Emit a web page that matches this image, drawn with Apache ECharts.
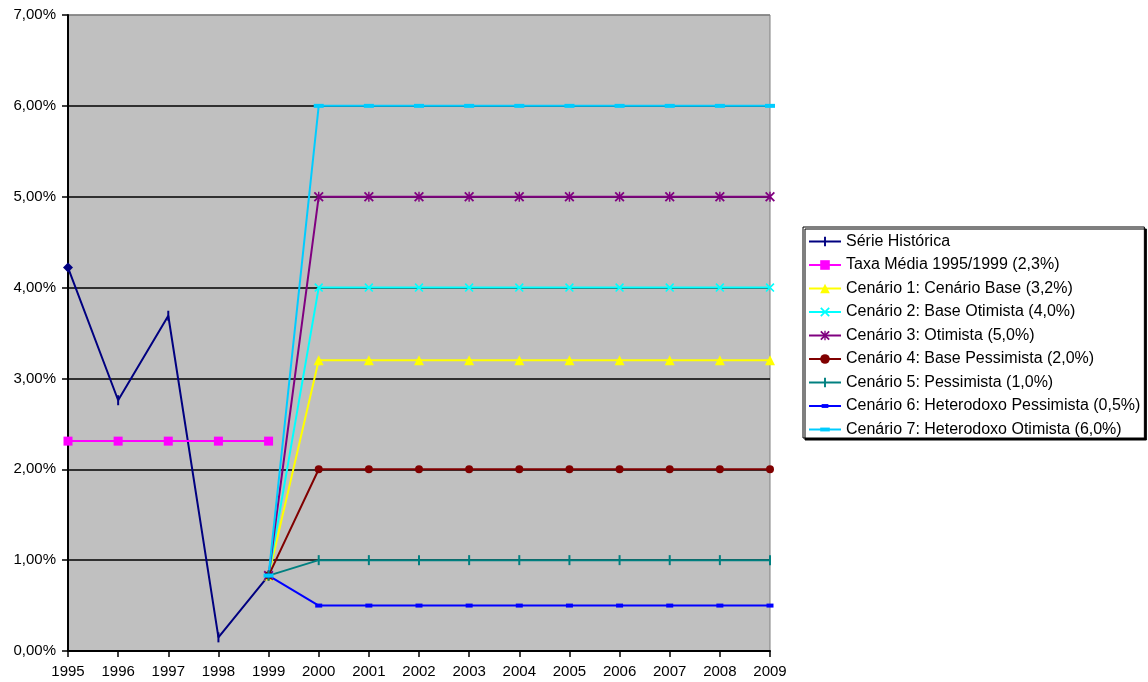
<!DOCTYPE html>
<html>
<head>
<meta charset="utf-8">
<script src="https://cdn.jsdelivr.net/npm/echarts@6/dist/echarts.min.js"></script>
<style>
html,body{margin:0;padding:0;background:#fff;}
#chart{width:1148px;height:682px;}
</style>
</head>
<body>
<div id="chart"></div>
<script>
// Anos do eixo horizontal
const years = ['1995','1996','1997','1998','1999','2000','2001','2002','2003','2004','2005','2006','2007','2008','2009'];

// Taxas em %
const historico = [4.22, 2.76, 3.69, 0.15, 0.83];
const taxaMedia = 2.31;
const cenarios = [
  { name: 'Cenário 1: Cenário Base (3,2%)', rate: 3.2 },
  { name: 'Cenário 2: Base Otimista (4,0%)', rate: 4.0 },
  { name: 'Cenário 3: Otimista (5,0%)', rate: 5.0 },
  { name: 'Cenário 4: Base Pessimista (2,0%)', rate: 2.0 },
  { name: 'Cenário 5: Pessimista (1,0%)', rate: 1.0 },
  { name: 'Cenário 6: Heterodoxo Pessimista (0,5%)', rate: 0.5 },
  { name: 'Cenário 7: Heterodoxo Otimista (6,0%)', rate: 6.0 }
];
const yTicks = [0, 1, 2, 3, 4, 5, 6, 7];

const nHist = historico.length;

// Marcadores desenhados numa caixa 10x10 (os pontos M fixam a caixa)
const box = 'path://M0,0 M10,10 ';
const barPath = box + 'M4,0 L6,0 L6,10 L4,10 Z';
const xPath = box + 'M0,1.3 L1.3,0 L10,8.7 L8.7,10 Z M8.7,0 L10,1.3 L1.3,10 L0,8.7 Z';
const starPath = box + 'M0,1.3 L1.3,0 L10,8.7 L8.7,10 Z M8.7,0 L10,1.3 L1.3,10 L0,8.7 Z M4.3,0 L5.7,0 L5.7,10 L4.3,10 Z';
const smallRectPath = box + 'M1.5,3 L8.5,3 L8.5,7 L1.5,7 Z';
const wideRectPath = box + 'M0,3 L10,3 L10,7 L0,7 Z';

// Série histórica com nulos após 1999
const histData = years.map((y, i) => {
  if (i >= nHist) return null;
  if (i === 0) return { value: historico[i], symbol: 'diamond', symbolSize: 10 };
  return historico[i];
});
const mediaData = years.map((y, i) => (i < nHist ? taxaMedia : null));

// Cada cenário parte do último ponto histórico e segue constante
function cenarioData(rate) {
  return years.map((y, i) => {
    if (i < nHist - 1) return null;
    if (i === nHist - 1) return historico[nHist - 1];
    return rate;
  });
}

const styles = [
  { color: '#FFFF00', symbol: 'triangle', symbolSize: 10 },
  { color: '#00FFFF', symbol: xPath, symbolSize: 9 },
  { color: '#800080', symbol: starPath, symbolSize: 10 },
  { color: '#800000', symbol: 'circle', symbolSize: 8 },
  { color: '#008080', symbol: barPath, symbolSize: 10 },
  { color: '#0000FF', symbol: smallRectPath, symbolSize: 10 },
  { color: '#00CCFF', symbol: wideRectPath, symbolSize: 10 }
];

const series = [
  {
    name: 'Série Histórica', type: 'line', data: histData,
    color: '#000080', symbol: barPath, symbolSize: 10,
    lineStyle: { width: 2 }
  },
  {
    name: 'Taxa Média 1995/1999 (2,3%)', type: 'line', data: mediaData,
    color: '#FF00FF', symbol: 'rect', symbolSize: 9, lineStyle: { width: 2 }
  }
];
cenarios.forEach((c, k) => {
  series.push({
    name: c.name, type: 'line', data: cenarioData(c.rate),
    color: styles[k].color, symbol: styles[k].symbol, symbolSize: styles[k].symbolSize,
    lineStyle: { width: 2 }
  });
});
series.forEach(s => { s.showAllSymbol = true; s.connectNulls = false; s.animation = false; });

const chart = echarts.init(document.getElementById('chart'));
chart.setOption({
  animation: false,
  backgroundColor: '#fff',
  textStyle: { fontFamily: 'Liberation Sans, Arial, sans-serif' },
  grid: {
    left: 68, top: 15, right: 378, bottom: 31,
    show: true, backgroundColor: '#C0C0C0', borderColor: '#808080', borderWidth: 1
  },
  xAxis: {
    type: 'category', data: years, boundaryGap: false,
    axisLine: { lineStyle: { color: '#000', width: 2 } },
    axisTick: { show: true, alignWithLabel: true, length: 6, lineStyle: { color: '#000', width: 1.5 } },
    axisLabel: { color: '#000', fontSize: 15, margin: 13, interval: 0 },
    splitLine: { show: false }
  },
  yAxis: {
    type: 'value', min: yTicks[0], max: yTicks[yTicks.length - 1], interval: 1,
    axisLine: { show: true, lineStyle: { color: '#000', width: 2 } },
    axisTick: { show: true, length: 6, lineStyle: { color: '#000', width: 1.5 } },
    axisLabel: {
      color: '#000', fontSize: 15, margin: 12,
      formatter: v => v.toFixed(2).replace('.', ',') + '%'
    },
    splitLine: {
      show: true,
      lineStyle: { color: ['#000', '#000', '#000', '#000', '#000', '#000', '#000', '#808080'], width: 1.5 }
    }
  },
  legend: {
    orient: 'vertical', left: 803, top: 227,
    padding: [6, 4, 0, 5],
    itemGap: 6.5, itemWidth: 32, itemHeight: 12,
    backgroundColor: '#fff',
    borderColor: '#000', borderWidth: 1,
    shadowColor: '#000', shadowOffsetX: 2, shadowOffsetY: 2, shadowBlur: 0,
    textStyle: { color: '#000', fontSize: 16, lineHeight: 17 },
    data: series.map(s => s.name)
  },
  series: series
});
</script>
</body>
</html>
